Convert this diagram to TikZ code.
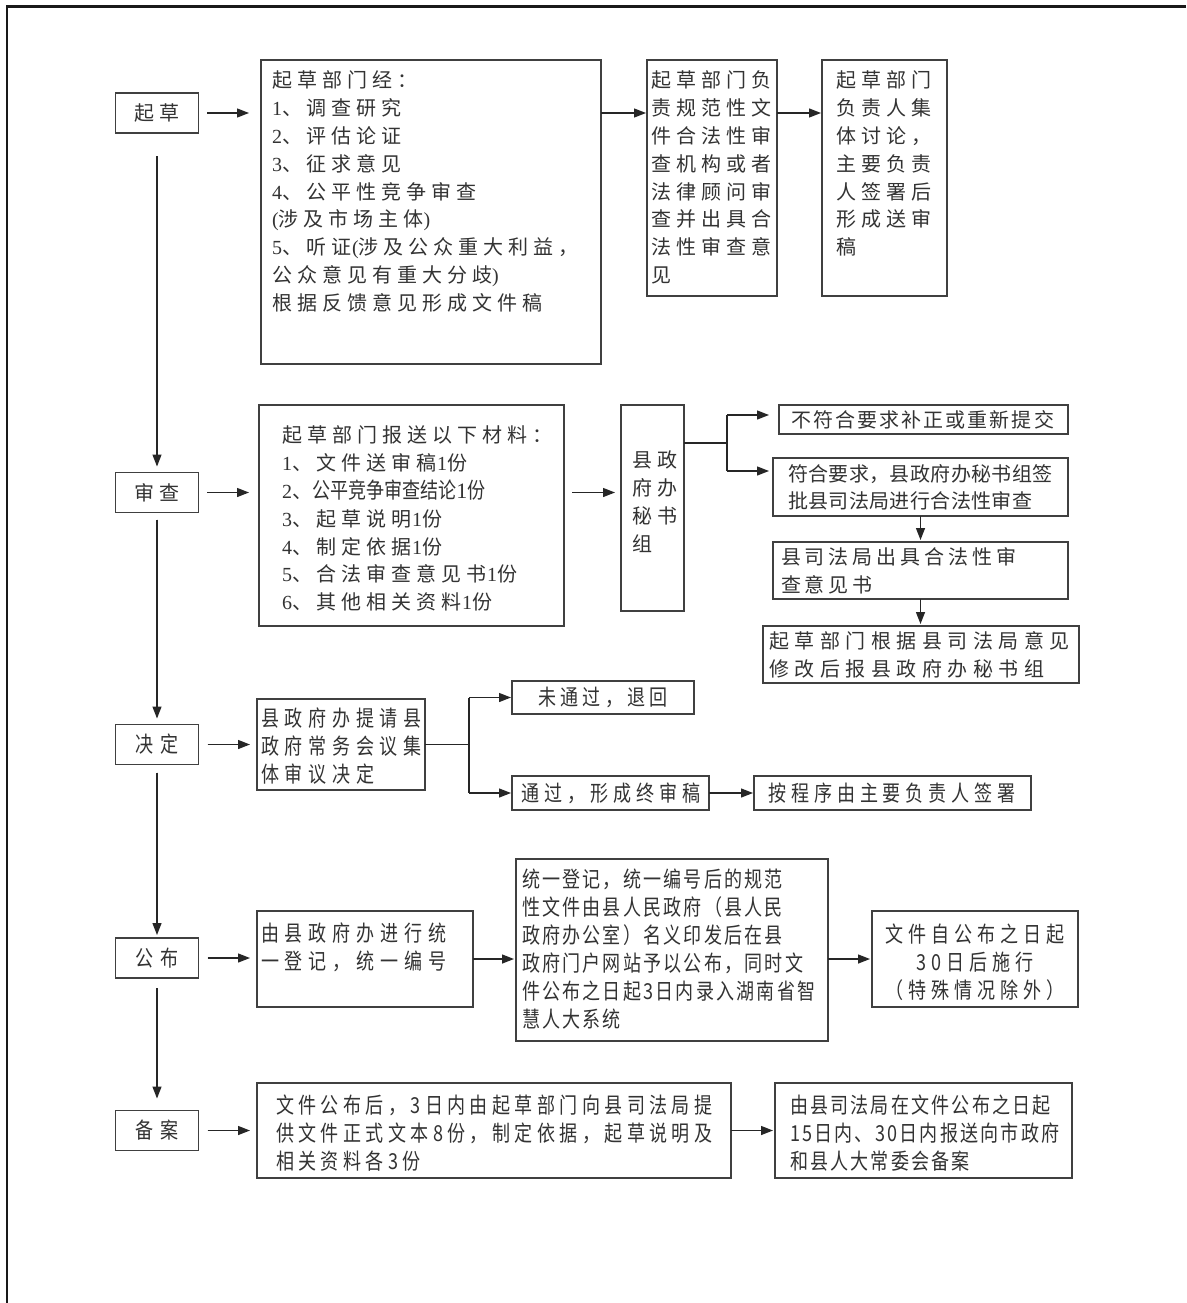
\documentclass[tikz,border=0pt]{standalone}
\usepackage{fontspec}
\newfontfamily\cjkA{Noto Sans CJK SC}
\newfontfamily\cjkN[FakeStretch=0.82]{Noto Sans CJK SC}
\newfontfamily\serf{Liberation Serif}
\newcommand\sd[1]{{\serf #1}}
\usetikzlibrary{arrows.meta,calc}
\tikzset{
 fa/.style={font={\cjkA\addfontfeatures{LetterSpace=#1}\fontsize{20}{27.8}\selectfont}},
 fn/.style={font={\cjkN\addfontfeatures{LetterSpace=#1}\fontsize{22}{28}\selectfont}},
 txt/.style={inner sep=0pt, outer sep=0pt, align=left, anchor=north west, text=black!80},
 ctxt/.style={inner sep=0pt, outer sep=0pt, align=center, text=black!80},
 box/.style={draw=black!75, line width=1.3pt, inner sep=0pt, outer sep=0pt},
 lab/.style={box, minimum width=83pt, minimum height=40pt, text=black!80},
 arr/.style={-{Triangle[length=12pt,width=9pt]}, line width=1.3pt, draw=black!85, fill=black!85},
 ln/.style={line width=1.3pt, draw=black!85},
}
\newcommand\mkbox[5]{\node[box, minimum width={#4-#2}, minimum height={#5-#3}] (#1) at ({(#2+#4)/2},{(#3+#5)/2}) {};}
\begin{document}
\begin{tikzpicture}[x=1pt,y=-1pt]
\useasboundingbox (0,0) rectangle (1186,1303);
\fill[white] (0,0) rectangle (1186,1303);
\draw[line width=2.5pt, black!90] (1186,6.5) -- (7,6.5) -- (7,1303);

% step labels
\node[lab, fa=25] (qc) at (157,113) {起草};
\node[lab, fa=25] (sc) at (157,492.5) {审查};
\node[lab, fn=30] (jd) at (157,744.5) {决定};
\node[lab, fn=30] (gb) at (157,958) {公布};
\node[lab, fn=30] (ba) at (157,1130.5) {备案};

% row 1
\mkbox{b1}{261}{60}{601}{364}
\mkbox{b2}{647}{60}{777}{296}
\mkbox{b3}{822}{60}{947}{296}
\node[txt, fa=25] (t1) at (272,71) {起草部门经：\\\sd{1}、调查研究\\\sd{2}、评估论证\\\sd{3}、征求意见\\\sd{4}、公平性竞争审查\\\sd{(}涉及市场主体\sd{)}\\\sd{5}、听证\sd{(}涉及公众重大利益，\\公众意见有重大分歧\sd{)}\\根据反馈意见形成文件稿};
\node[txt, fa=25] (t2) at (651,71) {起草部门负\\责规范性文\\件合法性审\\查机构或者\\法律顾问审\\查并出具合\\法性审查意\\见};
\node[txt, fa=25] (t3) at (836,71) {起草部门\\负责人集\\体讨论，\\主要负责\\人签署后\\形成送审\\稿};

% row 2
\mkbox{s1}{259}{405}{564}{626}
\node[txt, fa=25] (ts1) at (282,426) {起草部门报送以下材料：\\\sd{1}、文件送审稿\sd{1}份\\\sd{2}、{\cjkN\fontsize{22}{27.8}\selectfont 公平竞争审查结论\sd{1}份}\\\sd{3}、起草说明\sd{1}份\\\sd{4}、制定依据\sd{1}份\\\sd{5}、合法审查意见书\sd{1}份\\\sd{6}、其他相关资料\sd{1}份};
\mkbox{gov}{621}{405}{684}{611}
\node[txt, fa=25] (tg) at (632,451) {县政\\府办\\秘书\\组};
\mkbox{n1}{779}{405}{1068}{434}
\node[txt, fa=10.5] (tn1) at (791,410.5) {不符合要求补正或重新提交};
\mkbox{n2}{773}{458}{1068}{516}
\node[txt, fa=2] (tn2) at (788,464) {符合要求，县政府办秘书组签\\批县司法局进行合法性审查};
\mkbox{n3}{773}{542}{1068}{599}
\node[txt, fa=19.5] (tn3) at (781,548) {县司法局出具合法性审\\查意见书};
\mkbox{n4}{763}{626}{1079}{683}
\node[txt, fa=27.5] (tn4) at (769,632) {起草部门根据县司法局意见\\修改后报县政府办秘书组};

% row 3
\mkbox{d1}{257}{699}{425}{790}
\node[txt, fn=26] (td1) at (261,708) {县政府办提请县\\政府常务会议集\\体审议决定};
\mkbox{d2}{512}{681}{694}{714}
\node[ctxt, fn=19] (td2) at (603,697.5) {未通过，退回};
\mkbox{d3}{512}{776}{709}{810}
\node[ctxt, fn=23] (td3) at (611,793) {通过，形成终审稿};
\mkbox{d4}{754}{776}{1031}{810}
\node[ctxt, fn=22] (td4) at (892,793) {按程序由主要负责人签署};

% row 4
\mkbox{p1}{257}{911}{473}{1007}
\node[txt, fn=27] (tp1) at (261,923) {由县政府办进行统\\一登记，统一编号};
\mkbox{p2}{516}{859}{828}{1041}
\node[txt, fn=10] (tp2) at (522,869) {统一登记，统一编号后的规范\\性文件由县人民政府（县人民\\政府办公室）名义印发后在县\\政府门户网站予以公布，同时文\\件公布之日起3日内录入湖南省智\\慧人大系统};
\mkbox{p3}{872}{911}{1078}{1007}
\node[ctxt, fn=23] (tp3) at (975,962) {文件自公布之日起\\30日后施行\\（特殊情况除外）};

% row 5
\mkbox{r1}{257}{1083}{731}{1178}
\node[txt, fn=20] (tr1) at (276,1095) {文件公布后，3日内由起草部门向县司法局提\\供文件正式文本8份，制定依据，起草说明及\\相关资料各3份};
\mkbox{r2}{775}{1083}{1072}{1178}
\node[txt, fn=10] (tr2) at (790,1095) {由县司法局在文件公布之日起\\15日内、30日内报送向市政府\\和县人大常委会备案};

% vertical main arrows
\draw[arr] ($(qc.south)+(0,23)$) -- ($(sc.north)+(0,-6)$);
\draw[arr] ($(sc.south)+(0,7)$) -- ($(jd.north)+(0,-6)$);
\draw[arr] ($(jd.south)+(0,8)$) -- ($(gb.north)+(0,-3)$);
\draw[arr] ($(gb.south)+(0,10)$) -- ($(ba.north)+(0,-12)$);

% label -> first boxes
\draw[arr, shorten <=8.5pt, shorten >=12pt] (qc.east) -- (qc.east -| b1.west);
\draw[arr, shorten <=8.5pt, shorten >=10pt] (sc.east) -- (sc.east -| s1.west);
\draw[arr, shorten <=9pt, shorten >=7pt] (jd.east) -- (jd.east -| d1.west);
\draw[arr, shorten <=9pt, shorten >=7pt] (gb.east) -- (gb.east -| p1.west);
\draw[arr, shorten <=9pt, shorten >=7pt] (ba.east) -- (ba.east -| r1.west);

% row 1 arrows
\draw[arr, shorten >=1pt] (qc.east -| b1.east) -- (qc.east -| b2.west);
\draw[arr, shorten >=1pt] (qc.east -| b2.east) -- (qc.east -| b3.west);

% row 2 arrows
\draw[arr, shorten <=8pt, shorten >=6pt] (sc.east -| s1.east) -- (sc.east -| gov.west);
\coordinate (g0) at (727,443);
\coordinate (g1) at (727,415);
\coordinate (g2) at (727,471);
\draw[ln] (g0 -| gov.east) -- (g0);
\draw[ln] (g1) -- (g2);
\draw[arr, shorten >=10pt] (g1) -- (g1 -| n1.west);
\draw[arr, shorten >=4pt] (g2) -- (g2 -| n2.west);
\draw[arr, shorten >=2pt] (n2.south) -- (n2.south |- n3.north);
\draw[arr, shorten >=2pt] (n3.south) -- (n3.south |- n4.north);

% row 3 arrows
\coordinate (dj) at (469,744.5);
\coordinate (dt) at (469,697.5);
\coordinate (db) at (469,793);
\draw[ln] (d1.east) -- (dj);
\draw[ln] (dt) -- (db);
\draw[arr, shorten >=1pt] (dt) -- (d2.west);
\draw[arr, shorten >=1pt] (db) -- (d3.west);
\draw[arr, shorten >=1pt] (d3.east) -- (d4.west);

% row 4 and 5 arrows
\draw[arr, shorten >=2pt] (p1.east) -- (p1.east -| p2.west);
\draw[arr, shorten >=2pt] (p3.west -| p2.east) -- (p3.west);
\draw[arr, shorten >=2pt] (r1.east) -- (r2.west);
\end{tikzpicture}
\end{document}
